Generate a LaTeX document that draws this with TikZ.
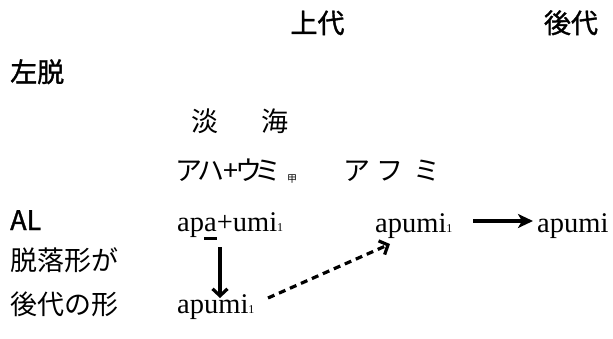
\documentclass[tikz,border=0pt]{standalone}
\usepackage{fontspec}
\setmainfont{Liberation Serif}
\newfontfamily\jp{Noto Sans CJK JP}
\newfontfamily\jph[FakeBold=1.3]{Noto Sans CJK JP}
\usetikzlibrary{arrows.meta}
\newcommand{\sbone}{{\fontsize{12}{12}\selectfont 1}}
\newcommand{\zc}[1]{\makebox[0pt]{#1}}
\tikzset{
  lbl/.style={inner sep=0pt, anchor=base west, font=\fontsize{28.5}{30}\selectfont},
  jlbl/.style={inner sep=0pt, anchor=base west, font=\fontsize{27}{30}\selectfont\jp},
  hlbl/.style={inner sep=0pt, anchor=base west, font=\fontsize{27}{30}\selectfont\jph},
  head/.style={inner sep=0pt, anchor=base, font=\fontsize{27}{30}\selectfont\jph},
  kana/.style={inner sep=0pt, anchor=base west, font=\fontsize{27}{30}\selectfont\jp},
  solidarrow/.style={line width=3.2pt, -{Straight Barb[length=7pt,width=15pt,line width=3.2pt]}},
  dasharrow/.style={line width=3.2pt, dash pattern=on 7pt off 5pt, -{Straight Barb[length=7pt,width=15pt,line width=3.2pt]}},
  rarrow/.style={line width=3.4pt, -{Stealth[length=15pt,width=14pt,inset=4pt]}},
  uline/.style={line width=3.2pt}
}
\begin{document}
\begin{tikzpicture}[x=1pt,y=-1pt]
\useasboundingbox (0,0) rectangle (613,338);
% headings
\node[head] (jodai) at (317.5,33) {上代};
\node[head] (kodai) at (571,33) {後代};
\node[hlbl] (sadatsu) at (10,82) {左脱};
% kanji
\node[jlbl] (tan) at (191,131) {淡};
\node[jlbl] (umi) at (261,131) {海};
% kana
\node[kana] (ahaumi) at (189,180) {\zc{ア}\hspace{22pt}\zc{ハ}\hspace{19.5pt}\zc{+}\hspace{18pt}\zc{ウ}\hspace{19pt}\zc{ミ}};
\node[inner sep=0pt, anchor=base west, font=\fontsize{10}{10}\selectfont\jp] (ko) at (287,182) {甲};
\node[kana] (afumi) at (357,180) {\zc{ア}\hspace{32.5pt}\zc{フ}\hspace{37.5pt}\zc{ミ}};
% row AL
\node[hlbl] (al) at (10,230) {AL};
\node[lbl] (apa) at (177,231) {apa+umi\sbone};
\node[lbl] (apumiA) at (375,232) {apumi\sbone};
\node[lbl] (apumiC) at (537,232) {apumi};
% rows below
\node[jlbl] (datsu) at (10,270) {脱落形が};
\node[jlbl] (kodaikei) at (10,314) {後代の形};
\node[lbl] (apumiB) at (177,313) {apumi\sbone};
% connectors
\coordinate (ul1) at (204,238.5);
\coordinate (ul2) at (217,238.5);
\draw[uline] (ul1) -- (ul2);
\coordinate (d1) at (220,247);
\coordinate (d2) at (220,298);
\draw[solidarrow] (d1) -- (d2);
\coordinate (s1) at (268,298);
\coordinate (s2) at (390,244);
\draw[dasharrow] (s1) -- (s2);
\coordinate (r1) at (473,221);
\coordinate (r2) at (533,221);
\draw[rarrow] (r1) -- (r2);
\end{tikzpicture}
\end{document}
